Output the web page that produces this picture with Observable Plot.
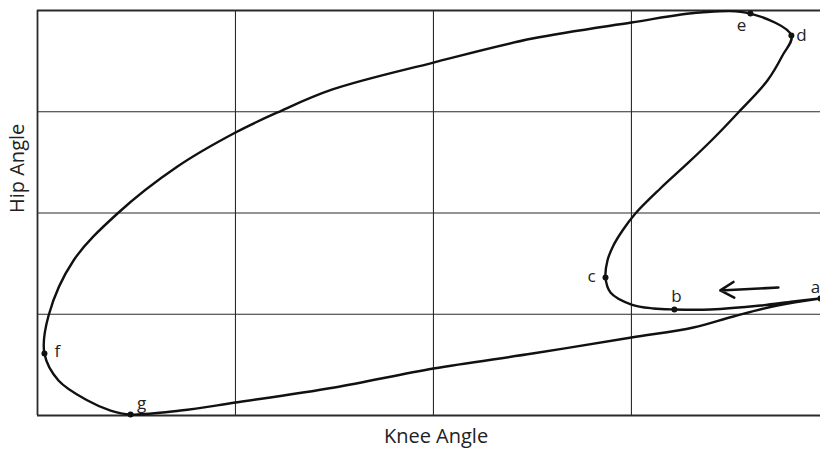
<!DOCTYPE html>
<html>
<head>
<meta charset="utf-8">
<script src="https://cdn.jsdelivr.net/npm/d3@7"></script>
<script src="https://cdn.jsdelivr.net/npm/@observablehq/plot@0.6"></script>
<style>
  html, body { margin: 0; padding: 0; background: #fff; }
  svg { display: block; }
</style>
</head>
<body>
<div id="chart"></div>
<script>
// Knee angle (x) vs hip angle (y), in grid units, traced around the loop a → b → … → g → a
const kneeAngle = [3.955, 3.818, 3.652, 3.399, 3.217, 3.111, 3.0, 2.894, 2.869, 2.879, 2.909, 2.955, 3.020, 3.146, 3.283, 3.414, 3.540, 3.687, 3.763, 3.808, 3.601, 3.348, 3.0, 2.5, 2.0, 1.490, 1.212, 1.0, 0.707, 0.404, 0.182, 0.056, 0.035, 0.106, 0.253, 0.369, 0.470, 0.722, 1.0, 1.5, 2.0, 2.5, 3.0, 3.313, 3.515, 3.737, 3.955];
const hipAngle  = [1.156, 1.126, 1.086, 1.047, 1.047, 1.057, 1.096, 1.215, 1.363, 1.531, 1.679, 1.827, 1.995, 2.242, 2.489, 2.736, 2.993, 3.309, 3.556, 3.753, 3.970, 3.980, 3.881, 3.723, 3.486, 3.220, 2.993, 2.795, 2.459, 1.995, 1.531, 0.988, 0.612, 0.346, 0.148, 0.049, 0.010, 0.049, 0.128, 0.277, 0.464, 0.612, 0.770, 0.869, 0.978, 1.086, 1.156];

// Labelled gait events
const eventNames = ["a", "b", "c", "d", "e", "f", "g"];
const eventKnee  = [3.955, 3.217, 2.869, 3.808, 3.601, 0.035, 0.470];
const eventHip   = [1.156, 1.047, 1.363, 3.753, 3.970, 0.612, 0.010];

// Direction arrow
const arrowFrom = [3.742, 1.264];
const arrowTo   = [3.449, 1.235];

// Grid lines
const gridX = [0, 1, 2, 3];
const gridY = [0, 1, 2, 3, 4];

const loop = kneeAngle.map((k, i) => ({knee: k, hip: hipAngle[i]}));
const events = eventNames.map((n, i) => ({name: n, knee: eventKnee[i], hip: eventHip[i]}));
const offsets = {a: [-5, -11], b: [2, -13], c: [-14, -1], d: [10, 0], e: [-9, 12], f: [13, -2], g: [11, -11]};

const font = "'Open Sans', Lato, sans-serif";

const chart = Plot.plot({
  width: 820,
  height: 452,
  marginLeft: 37,
  marginRight: 0,
  marginTop: 10,
  marginBottom: 37,
  x: {domain: [0, 3.955], axis: null},
  y: {domain: [0, 4], axis: null},
  style: {background: "#fff", fontFamily: font, color: "#111"},
  marks: [
    Plot.ruleX(gridX, {stroke: "#2a2a2a", strokeWidth: d => d === 0 ? 1.8 : 1.1}),
    Plot.ruleY(gridY, {stroke: "#2a2a2a", strokeWidth: d => (d === 0 || d === 4) ? 1.8 : 1.1}),
    Plot.line(loop, {x: "knee", y: "hip", curve: "catmull-rom", stroke: "#111", strokeWidth: 2.4, strokeLinejoin: "round"}),
    Plot.dot(events, {x: "knee", y: "hip", r: 3, fill: "#111"}),
    ...eventNames.map(n => Plot.text(events.filter(d => d.name === n), {
      x: "knee", y: "hip", text: "name",
      dx: offsets[n][0], dy: offsets[n][1],
      fontSize: 17, fill: "#222", fontFamily: font
    })),
    Plot.arrow([{x1: arrowFrom[0], y1: arrowFrom[1], x2: arrowTo[0], y2: arrowTo[1]}], {
      x1: "x1", y1: "y1", x2: "x2", y2: "y2",
      stroke: "#111", strokeWidth: 2.6, headLength: 9, headAngle: 60, bend: 0
    }),
    Plot.text(["Knee Angle"], {frameAnchor: "bottom", dx: 7, dy: 27, fontSize: 20, fill: "#222", fontFamily: font}),
    Plot.text(["Hip Angle"], {frameAnchor: "left", dx: -20, rotate: -90, fontSize: 20, fill: "#222", fontFamily: font})
  ]
});
document.getElementById("chart").appendChild(chart);
</script>
</body>
</html>
